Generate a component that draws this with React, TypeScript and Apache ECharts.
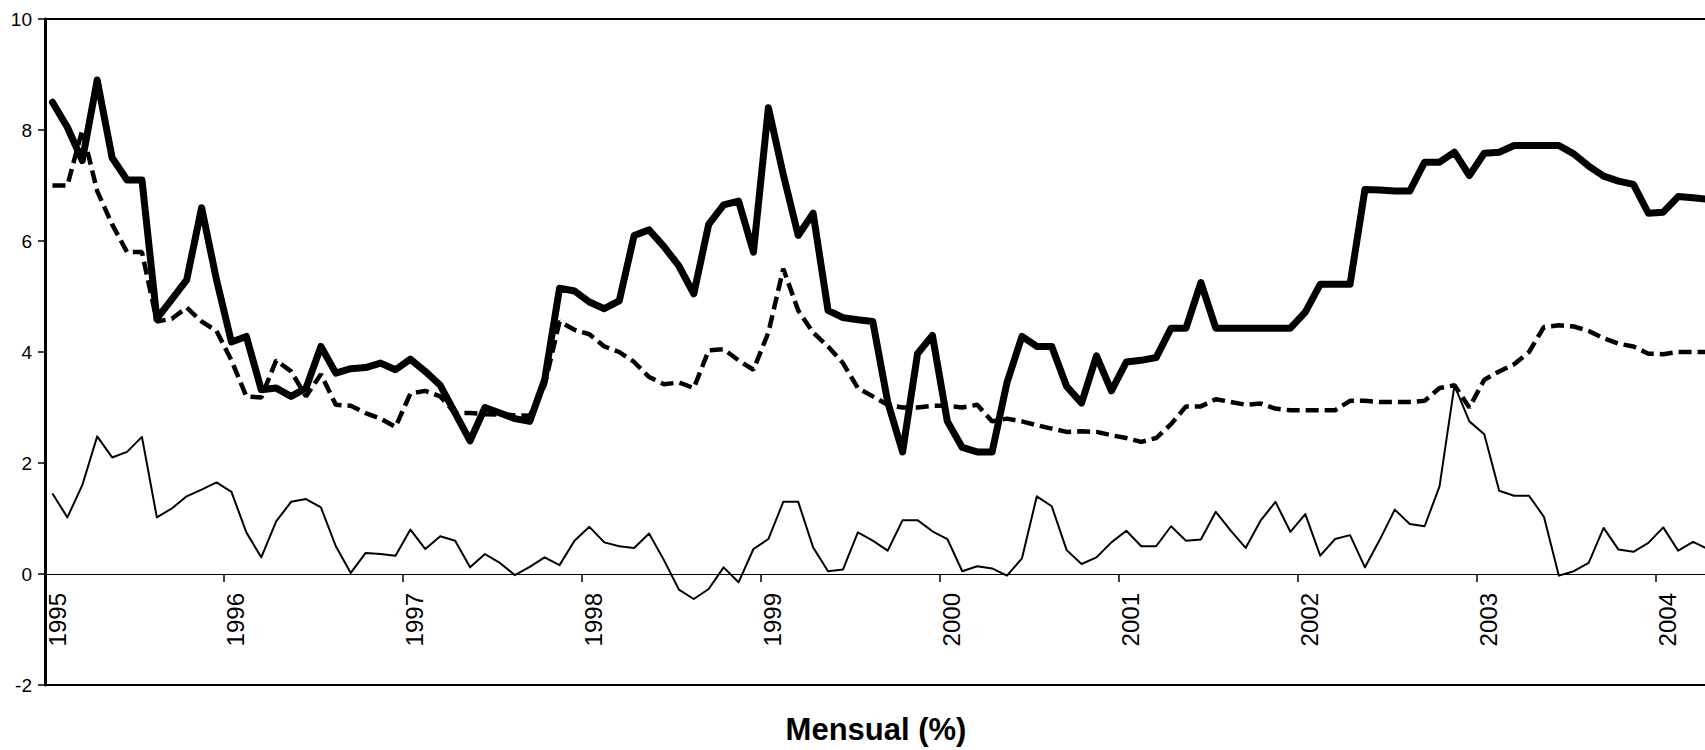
import { useEffect, useRef } from 'react';
import * as echarts from 'echarts';

// Monthly data from January 1995 (index 0) to April 2004 (index 111)
const yearLabels = ['1995', '1996', '1997', '1998', '1999', '2000', '2001', '2002', '2003', '2004'];

const thickSeries = [
  8.5, 8.05, 7.45, 8.9, 7.5, 7.1, 7.1, 4.6, 4.95, 5.3, 6.6, 5.3,
  4.18, 4.28, 3.32, 3.35, 3.2, 3.35, 4.1, 3.62, 3.7, 3.72, 3.8, 3.68,
  3.87, 3.65, 3.4, 2.9, 2.4, 3.0, 2.9, 2.8, 2.75, 3.5, 5.15, 5.1,
  4.9, 4.78, 4.92, 6.1, 6.2, 5.9, 5.55, 5.05, 6.3, 6.65, 6.72, 5.8,
  8.4, 7.2, 6.1, 6.5, 4.75, 4.62, 4.58, 4.55, 3.1, 2.2, 3.97, 4.3,
  2.75, 2.28, 2.2, 2.2, 3.45, 4.28, 4.1, 4.1, 3.38, 3.08, 3.93, 3.3,
  3.82, 3.85, 3.9, 4.43, 4.43, 5.25, 4.43, 4.43, 4.43, 4.43, 4.43, 4.43,
  4.72, 5.22, 5.22, 5.22, 6.93, 6.92, 6.9, 6.9, 7.42, 7.42, 7.6, 7.18,
  7.58, 7.6, 7.72, 7.72, 7.72, 7.72, 7.57, 7.35, 7.17, 7.08, 7.02, 6.5,
  6.52, 6.8, 6.78, 6.75,
];

const dashedSeries = [
  7.0, 7.0, 8.0, 6.9, 6.3, 5.8, 5.8, 4.55, 4.6, 4.8, 4.55, 4.38,
  3.85, 3.2, 3.18, 3.85, 3.65, 3.2, 3.6, 3.05, 3.03, 2.9, 2.8, 2.65,
  3.25, 3.3, 3.2, 2.9, 2.9, 2.88, 2.87, 2.86, 2.85, 3.4, 4.55, 4.4,
  4.32, 4.1, 4.0, 3.82, 3.55, 3.42, 3.45, 3.35, 4.03, 4.05, 3.85, 3.68,
  4.35, 5.5, 4.75, 4.35, 4.1, 3.8, 3.35, 3.2, 3.05, 3.0, 3.0, 3.03,
  3.03, 3.0, 3.05, 2.75, 2.8, 2.75, 2.68, 2.62, 2.56, 2.57, 2.56, 2.5,
  2.45, 2.38, 2.45, 2.7, 3.02, 3.02, 3.15, 3.1, 3.05, 3.07, 2.98, 2.95,
  2.95, 2.95, 2.95, 3.12, 3.12, 3.1, 3.1, 3.1, 3.12, 3.35, 3.4, 3.0,
  3.5, 3.65, 3.78, 4.0, 4.45, 4.48, 4.46, 4.38, 4.25, 4.15, 4.1, 3.97,
  3.96, 4.0, 4.0, 4.0,
];

const thinSeries = [
  1.45, 1.02, 1.6, 2.48, 2.1, 2.2, 2.47, 1.02, 1.18, 1.4, 1.52, 1.65,
  1.48, 0.75, 0.3, 0.95, 1.3, 1.35, 1.2, 0.5, 0.02, 0.38, 0.36, 0.33,
  0.8, 0.45, 0.68, 0.6, 0.12, 0.36, 0.2, -0.02, 0.13, 0.3, 0.16, 0.6,
  0.85, 0.57, 0.5, 0.47, 0.73, 0.25, -0.28, -0.45, -0.27, 0.12, -0.15, 0.45,
  0.63, 1.3, 1.3, 0.48, 0.05, 0.08, 0.75, 0.6, 0.42, 0.97, 0.97, 0.77,
  0.63, 0.05, 0.14, 0.1, -0.03, 0.28, 1.4, 1.22, 0.43, 0.18, 0.3, 0.57,
  0.78, 0.5, 0.5, 0.86, 0.6, 0.62, 1.12, 0.78, 0.47, 0.96, 1.3, 0.76,
  1.08, 0.33, 0.63, 0.7, 0.12, 0.62, 1.16, 0.9, 0.86, 1.58, 3.4, 2.75,
  2.52, 1.5, 1.41, 1.41, 1.03, -0.03, 0.05, 0.2, 0.83, 0.44, 0.4, 0.56,
  0.84, 0.42, 0.58, 0.45,
];

const titleText = 'Mensual (%)';
const FONT = '"Liberation Sans", Arial, Helvetica, sans-serif';

export default function App() {
  const ref = useRef<HTMLDivElement>(null);

  useEffect(() => {
    if (!ref.current) return;
    const chart = echarts.init(ref.current, null, { renderer: 'svg' });
    const toPoints = (arr: number[]) => arr.map((v, i) => [i + 0.5, v]);

    const gridTop = 19;
    const gridBottom = 65;
    const plotH = 750 - gridTop - gridBottom;
    const yMin = -2;
    const yMax = 10;
    // distance from the grid bottom up to the zero line
    const zeroOffset = (plotH * (0 - yMin)) / (yMax - yMin);

    const yearFormatter = (v: number) => {
      const k = Math.round(v / 12);
      return Math.abs(v - k * 12) < 1e-6 && yearLabels[k] ? yearLabels[k] : '';
    };

    chart.setOption({
      animation: false,
      backgroundColor: '#ffffff',
      grid: {
        left: 45,
        right: -3,
        top: gridTop,
        bottom: gridBottom,
        show: true,
        borderColor: '#000',
        borderWidth: 2,
        backgroundColor: 'transparent',
        containLabel: false,
        outerBoundsMode: 'none',
      },
      xAxis: [
        {
          type: 'value',
          min: 0,
          max: 111.5,
          interval: 12,
          axisLine: { show: true, onZero: true, lineStyle: { color: '#000', width: 1.2 } },
          axisTick: { show: true, inside: false, length: 8, lineStyle: { color: '#000', width: 1.5 } },
          axisLabel: { show: false },
          splitLine: { show: false },
        },
        {
          type: 'value',
          min: 0,
          max: 111.5,
          interval: 12,
          position: 'bottom',
          offset: -zeroOffset,
          axisLine: { show: false, onZero: false },
          axisTick: { show: false },
          axisLabel: {
            rotate: 90,
            margin: 19,
            fontSize: 24,
            fontFamily: FONT,
            color: '#000',
            verticalAlign: 'top',
            showMaxLabel: false,
            formatter: yearFormatter,
          },
          splitLine: { show: false },
        },
      ],
      yAxis: {
        type: 'value',
        min: yMin,
        max: yMax,
        interval: 2,
        axisLine: { show: true, onZero: false, lineStyle: { color: '#000', width: 3 } },
        axisTick: { show: true, length: 7, lineStyle: { color: '#000', width: 1.5 } },
        axisLabel: { fontSize: 19, fontFamily: FONT, color: '#000', margin: 13 },
        splitLine: { show: false },
      },
      graphic: [
        {
          type: 'text',
          x: 876,
          y: 729,
          style: {
            text: titleText,
            fontSize: 31,
            fontWeight: 'bold',
            fontFamily: FONT,
            fill: '#000',
            align: 'center',
            verticalAlign: 'middle',
          },
        },
      ],
      series: [
        {
          name: 'thick',
          type: 'line',
          xAxisIndex: 0,
          data: toPoints(thickSeries),
          showSymbol: false,
          symbol: 'none',
          lineStyle: { color: '#000', width: 7, cap: 'round', join: 'round' },
          z: 3,
        },
        {
          name: 'dashed',
          type: 'line',
          xAxisIndex: 0,
          data: toPoints(dashedSeries),
          showSymbol: false,
          symbol: 'none',
          lineStyle: { color: '#000', width: 4.5, type: [13, 6] },
          z: 4,
        },
        {
          name: 'thin',
          type: 'line',
          xAxisIndex: 0,
          data: toPoints(thinSeries),
          showSymbol: false,
          symbol: 'none',
          lineStyle: { color: '#000', width: 2, join: 'round' },
          z: 5,
        },
      ],
    });

    return () => {
      chart.dispose();
    };
  }, []);

  return (
    <div
      ref={ref}
      style={{ position: 'fixed', left: 0, top: 0, width: 1705, height: 750, background: '#fff' }}
    />
  );
}
